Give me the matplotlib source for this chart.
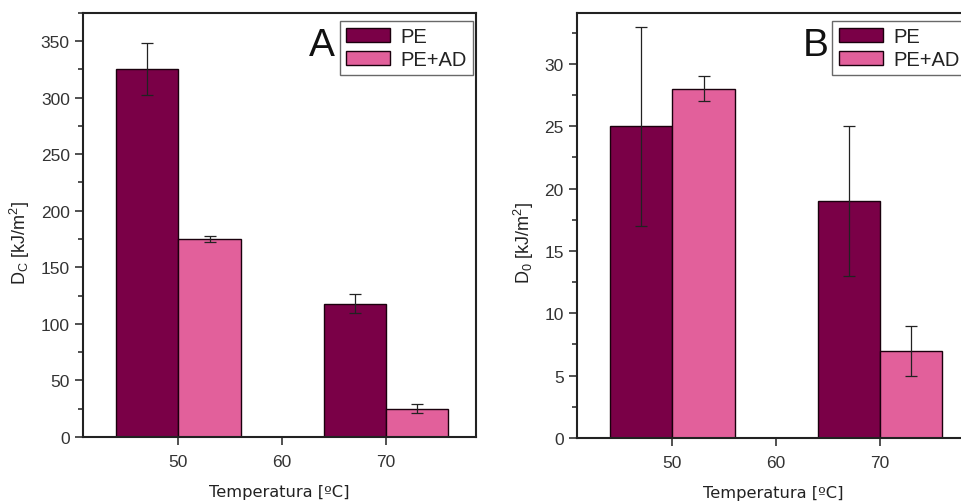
import matplotlib
matplotlib.use("Agg")
import matplotlib.pyplot as plt
from matplotlib.ticker import MultipleLocator
import numpy as np

# Data
temperatures = [50, 70]
series = ["PE", "PE+AD"]

dc_pe = [325, 118]
dc_pe_err = [23, 8]
dc_ad = [175, 25]
dc_ad_err = [3, 4]

d0_pe = [25, 19]
d0_pe_err = [8, 6]
d0_ad = [28, 7]
d0_ad_err = [1, 2]

x_ticks = [50, 60, 70]

COL_PE = "#7a0047"
COL_AD = "#e2609b"
BAR_W = 6

plt.rcParams["font.family"] = ["Liberation Sans", "DejaVu Sans"]

fig = plt.figure(figsize=(9.61, 5.02), dpi=100)
axA = fig.add_axes([0.0864, 0.1275, 0.409, 0.845])
axB = fig.add_axes([0.6004, 0.1255, 0.409, 0.847])


def panel(ax, pe, pe_err, ad, ad_err, ylim, major, minor, letter, ylabel, letter_xy, legend_anchor):
    t = np.array(temperatures, dtype=float)
    ax.bar(t - BAR_W / 2, pe, width=BAR_W, color=COL_PE, edgecolor="#1a000d",
           linewidth=1.0, label=series[0], zorder=2)
    ax.bar(t + BAR_W / 2, ad, width=BAR_W, color=COL_AD, edgecolor="#1a000d",
           linewidth=1.0, label=series[1], zorder=2)
    ax.errorbar(t - BAR_W / 2, pe, yerr=pe_err, fmt="none", ecolor="#222222",
                elinewidth=0.9, capsize=4, capthick=0.9, zorder=3)
    ax.errorbar(t + BAR_W / 2, ad, yerr=ad_err, fmt="none", ecolor="#222222",
                elinewidth=0.9, capsize=4, capthick=0.9, zorder=3)

    ax.set_xlim(40.8, 78.7)
    ax.set_ylim(*ylim)
    ax.set_xticks(x_ticks)
    ax.yaxis.set_major_locator(MultipleLocator(major))
    ax.yaxis.set_minor_locator(MultipleLocator(minor))
    ax.tick_params(axis="both", which="major", direction="out", length=6,
                   width=1.2, labelsize=12.5, colors="#333333", labelcolor="#333333")
    ax.tick_params(axis="y", which="minor", direction="out", length=3.5, width=1.2,
                   colors="#333333")
    ax.tick_params(axis="x", pad=6)
    for s in ax.spines.values():
        s.set_linewidth(1.5)
        s.set_color("#222222")

    ax.set_xlabel("Temperatura [ºC]", fontsize=11.7, family=["DejaVu Sans"],
                  color="#222222", labelpad=11)
    ax.set_ylabel(ylabel, fontsize=13, color="#222222", labelpad=6)
    ax.yaxis.label.set_y(0.46)

    ax.text(letter_xy[0], letter_xy[1], letter, transform=ax.transAxes,
            fontsize=28, ha="center", va="center", color="#111111")

    leg = ax.legend(loc="upper left", bbox_to_anchor=legend_anchor, fontsize=14.5,
                    frameon=True, fancybox=False, edgecolor="#444444",
                    handlelength=2.2, handleheight=0.7, handletextpad=0.5,
                    borderpad=0.3, labelspacing=0.2, borderaxespad=0)
    leg.get_frame().set_linewidth(1.0)
    for txt in leg.get_texts():
        txt.set_color("#222222")


panel(axA, dc_pe, dc_pe_err, dc_ad, dc_ad_err, (0, 375), 50, 25, "A",
      r"D$_\mathregular{C}$ [kJ/m$^\mathregular{2}$]", (0.608, 0.925), (0.654, 0.98))
panel(axB, d0_pe, d0_pe_err, d0_ad, d0_ad_err, (0, 34.1), 5, 2.5, "B",
      r"D$_\mathregular{0}$ [kJ/m$^\mathregular{2}$]", (0.607, 0.925), (0.65, 0.98))

fig.savefig("out.png", dpi=100, facecolor="white")
